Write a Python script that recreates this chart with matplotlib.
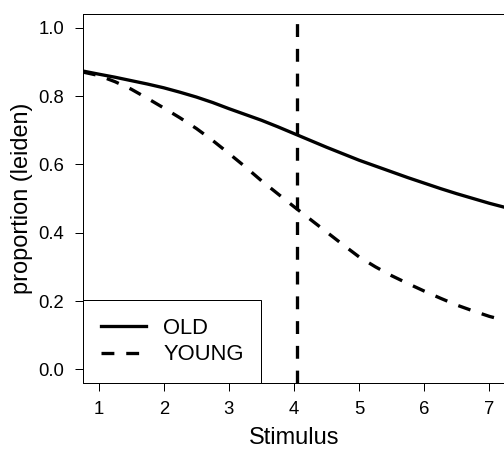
import matplotlib
matplotlib.use('Agg')
from matplotlib import pyplot as plt

plt.rcParams['font.family'] = ['Liberation Sans', 'DejaVu Sans']

# data
stimulus = [0.76, 1.0, 1.25, 1.5, 1.75, 2.0, 2.25, 2.5, 2.75, 3.0, 3.25, 3.5, 3.75,
            4.0, 4.25, 4.5, 4.75, 5.0, 5.25, 5.5, 5.75, 6.0, 6.25, 6.5, 6.75,
            7.0, 7.24]
old = [0.873, 0.864, 0.855, 0.845, 0.835, 0.824, 0.811, 0.797, 0.781, 0.763,
       0.746, 0.729, 0.710, 0.690, 0.670, 0.650, 0.631, 0.612, 0.595, 0.578,
       0.561, 0.545, 0.529, 0.514, 0.500, 0.486, 0.474]
young = [0.870, 0.860, 0.842, 0.820, 0.793, 0.765, 0.736, 0.705, 0.670, 0.632,
         0.593, 0.552, 0.514, 0.476, 0.439, 0.402, 0.365, 0.329, 0.300, 0.274,
         0.251, 0.229, 0.208, 0.188, 0.171, 0.155, 0.143]
cutoff = 4.05

xticks = [1, 2, 3, 4, 5, 6, 7]
yticks = [0.0, 0.2, 0.4, 0.6, 0.8, 1.0]

fig = plt.figure(figsize=(7.0, 6.25), dpi=72)
ax = fig.add_axes([83 / 504, 1 - 383 / 450, 422 / 504, 369 / 450])

ax.plot(stimulus, old, color='black', lw=3.3, label='OLD')
ax.plot(stimulus, young, color='black', lw=3.3, ls=(0, (3.9, 3.6)), label='YOUNG')
ax.axvline(cutoff, color='black', lw=3.3, ls=(0, (3.9, 3.6)))

ax.set_xlim(0.76, 7.24)
ax.set_ylim(-0.04, 1.04)
ax.set_xticks(xticks)
ax.set_xticklabels([str(v) for v in xticks])
ax.set_yticks(yticks)
ax.set_yticklabels([f'{v:.1f}' for v in yticks])
ax.tick_params(direction='out', length=8, width=1, labelsize=18.5)
ax.tick_params(axis='x', pad=9.5)
ax.tick_params(axis='y', pad=11)

for s in ax.spines.values():
    s.set_linewidth(1)

ax.set_xlabel('Stimulus', fontsize=23.5, labelpad=9)
ax.set_ylabel('proportion (leiden)', fontsize=23.5, labelpad=5)

# legend in the lower left corner, square black frame
leg = ax.legend(loc='lower left', bbox_to_anchor=(0, 0), borderaxespad=0,
                fancybox=False, edgecolor='black', fontsize=22, handlelength=2.05,
                handletextpad=0.8, borderpad=0.8, labelspacing=0.25)
leg.get_frame().set_linewidth(1)
leg.get_frame().set_alpha(1)

fig.savefig('out.png', dpi=72)
